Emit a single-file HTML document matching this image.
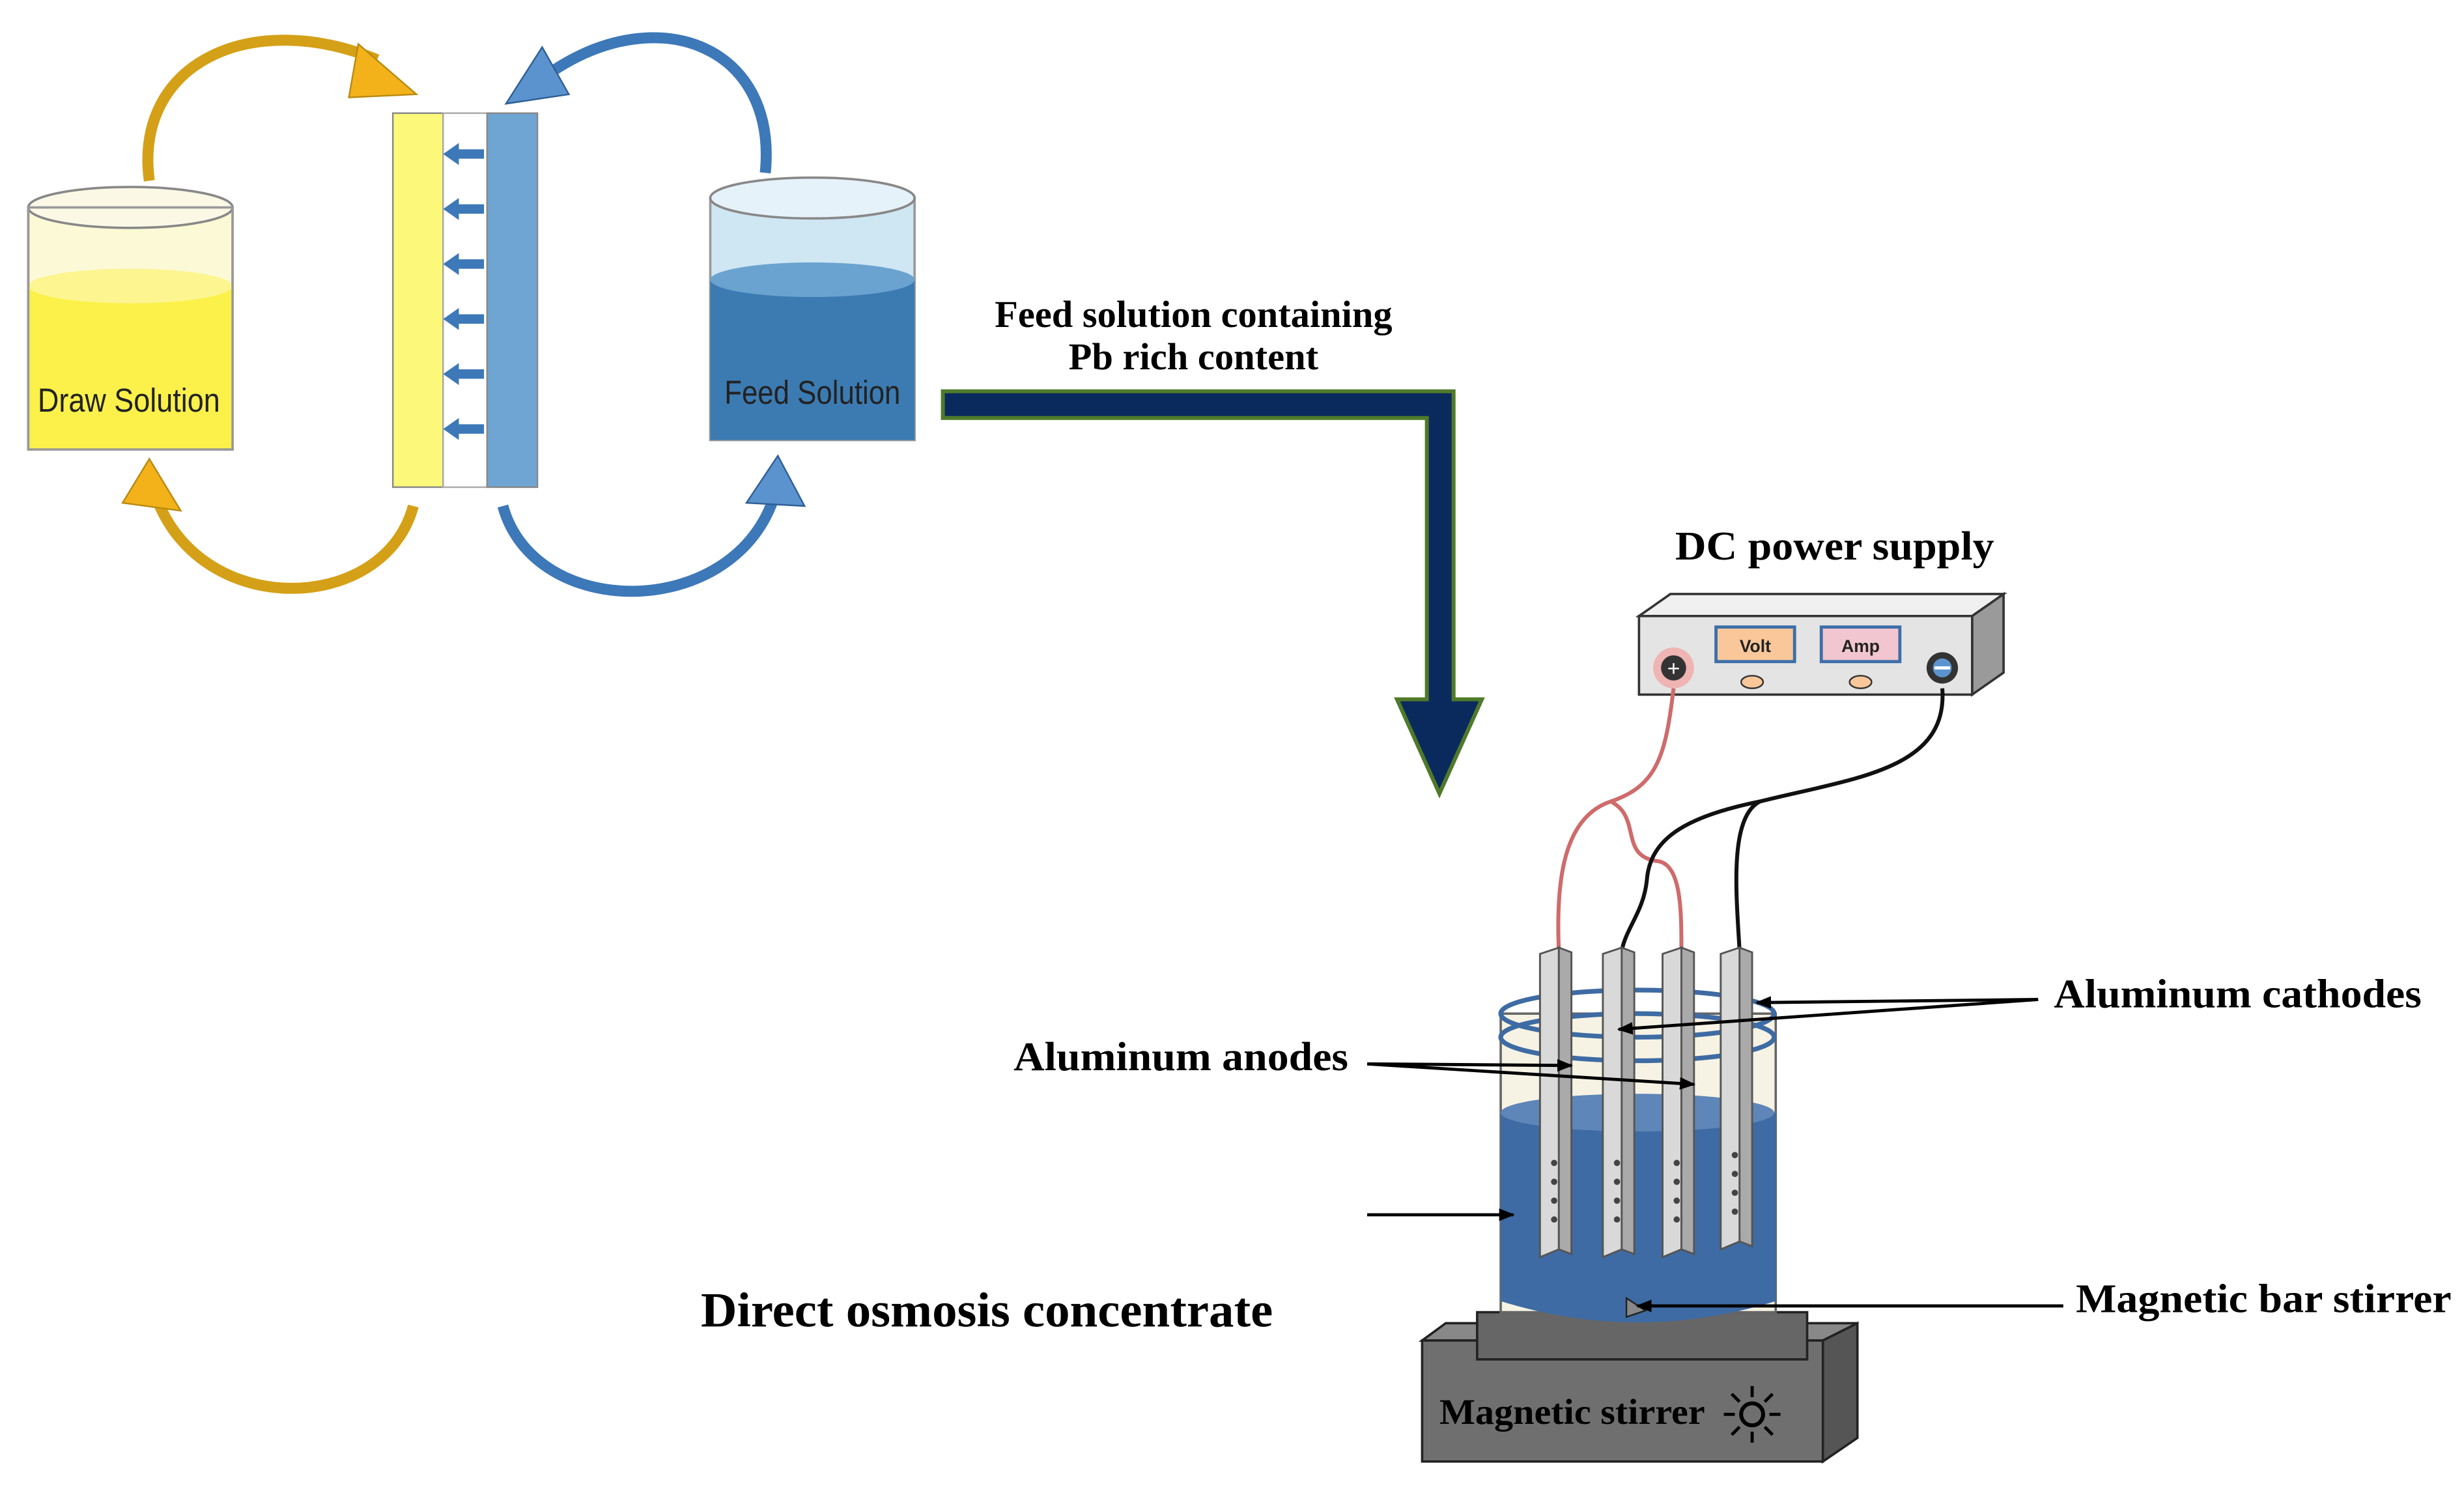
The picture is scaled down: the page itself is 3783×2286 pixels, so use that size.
<!DOCTYPE html>
<html><head><meta charset="utf-8"><style>
html,body{margin:0;padding:0;background:#fff}
svg{display:block}
.t{font-family:"Liberation Serif",serif;font-weight:bold;fill:#000}
.s{font-family:"Liberation Sans",sans-serif;fill:#222}
</style></head><body>
<svg width="3783" height="2286" viewBox="0 0 1568 947.5" preserveAspectRatio="none" xmlns="http://www.w3.org/2000/svg">
<defs>
<marker id="ah" markerWidth="10" markerHeight="8" refX="9" refY="4" orient="auto" markerUnits="userSpaceOnUse"><path d="M0,0 L10,4 L0,8 Z" fill="#000"/></marker>
</defs>
<!-- Draw solution beaker -->
<rect x="18" y="132" width="130" height="154" fill="#fbf9d6" stroke="#999" stroke-width="1.5"/>
<rect x="18" y="182" width="130" height="104" fill="#fbf14a"/>
<ellipse cx="83" cy="182" rx="65" ry="11" fill="#fcf590"/>
<ellipse cx="83" cy="132" rx="65" ry="13" fill="#fbf9e6" stroke="#888" stroke-width="1.5"/>
<rect x="18" y="132" width="130" height="154" fill="none" stroke="#999" stroke-width="1.5"/>
<text x="24" y="262" class="s" font-size="21" textLength="116" lengthAdjust="spacingAndGlyphs">Draw Solution</text>
<!-- Feed beaker -->
<rect x="452" y="126" width="130" height="154" fill="#cfe6f3" stroke="#999" stroke-width="1.5"/>
<rect x="452" y="178" width="130" height="102" fill="#3c7bb2"/>
<ellipse cx="517" cy="178" rx="65" ry="11" fill="#6aa3d0"/>
<ellipse cx="517" cy="126" rx="65" ry="13" fill="#e6f2f9" stroke="#888" stroke-width="1.5"/>
<text x="461" y="257" class="s" font-size="21" fill="#111" textLength="112" lengthAdjust="spacingAndGlyphs">Feed Solution</text>
<!-- membrane -->
<rect x="250" y="72" width="32" height="238" fill="#fcf87a" stroke="#888"/>
<rect x="282" y="72" width="28" height="238" fill="#fff" stroke="#aaa"/>
<rect x="310" y="72" width="32" height="238" fill="#6ea5d3" stroke="#888"/>
<g fill="#3d78b8">
<path d="M282,98 l10,-7 v4 h16 v6 h-16 v4 z"/>
<path d="M282,133 l10,-7 v4 h16 v6 h-16 v4 z"/>
<path d="M282,168 l10,-7 v4 h16 v6 h-16 v4 z"/>
<path d="M282,203 l10,-7 v4 h16 v6 h-16 v4 z"/>
<path d="M282,238 l10,-7 v4 h16 v6 h-16 v4 z"/>
<path d="M282,273 l10,-7 v4 h16 v6 h-16 v4 z"/>
</g>
<!-- orange arrows -->
<path d="M95,115 C85,40 160,5 240,38" fill="none" stroke="#d4a017" stroke-width="7"/>
<path d="M228,28 L265,60 L222,62 Z" fill="#f3b21a" stroke="#b88a10"/>
<path d="M263,322 C245,390 130,395 100,318" fill="none" stroke="#d4a017" stroke-width="7"/>
<path d="M78,320 L95,292 L115,325 Z" fill="#f3b21a" stroke="#b88a10"/>
<!-- blue arrows -->
<path d="M487,110 C495,30 420,0 352,45" fill="none" stroke="#3d78b8" stroke-width="7"/>
<path d="M345,30 L322,66 L362,60 Z" fill="#5b93cf" stroke="#2f5f95"/>
<path d="M320,322 C340,395 465,395 492,318" fill="none" stroke="#3d78b8" stroke-width="7"/>
<path d="M475,320 L495,290 L512,322 Z" fill="#5b93cf" stroke="#2f5f95"/>
<!-- big navy arrow -->
<path d="M600,249 H925 V445 H943 L916,505 L889,445 H908 V266 H600 Z" fill="#0a2a5e" stroke="#4f7a2a" stroke-width="2.5"/>
<text x="633" y="208" class="t" font-size="24" textLength="253" lengthAdjust="spacingAndGlyphs">Feed solution containing</text>
<text x="680" y="235" class="t" font-size="24" textLength="159" lengthAdjust="spacingAndGlyphs">Pb rich content</text>
<text x="1066" y="356" class="t" font-size="26" textLength="203" lengthAdjust="spacingAndGlyphs">DC power supply</text>
<!-- power supply -->
<path d="M1043,392 L1063,378 H1275 L1255,392 Z" fill="#f0f0f0" stroke="#333" stroke-width="1.5"/>
<path d="M1255,392 L1275,378 V428 L1255,442 Z" fill="#9a9a9a" stroke="#333" stroke-width="1.5"/>
<rect x="1043" y="392" width="212" height="50" fill="#e4e4e4" stroke="#333" stroke-width="1.5"/>
<rect x="1092" y="399" width="50" height="22" fill="#f9c79a" stroke="#3d6fa8" stroke-width="2"/>
<text x="1117" y="415" text-anchor="middle" class="s" font-size="11" font-weight="bold">Volt</text>
<rect x="1159" y="399" width="50" height="22" fill="#f2c6d0" stroke="#3d6fa8" stroke-width="2"/>
<text x="1184" y="415" text-anchor="middle" class="s" font-size="11" font-weight="bold">Amp</text>
<ellipse cx="1115" cy="434" rx="7" ry="4" fill="#f9c79a" stroke="#333"/>
<ellipse cx="1184" cy="434" rx="7" ry="4" fill="#f9c79a" stroke="#333"/>
<circle cx="1065" cy="425" r="13" fill="#f3a0a0" opacity="0.7"/>
<circle cx="1065" cy="425" r="8" fill="#333"/>
<text x="1065" y="430" text-anchor="middle" fill="#fff" font-size="14" font-family="Liberation Sans">+</text>
<circle cx="1236" cy="425" r="10" fill="#333"/>
<circle cx="1236" cy="425" r="6" fill="#5b93cf"/>
<rect x="1231" y="424" width="10" height="2" fill="#fff"/>
<!-- wires -->
<path d="M1065,438 C1060,480 1055,500 1025,510 C995,520 990,560 992,605" fill="none" stroke="#cf6b6b" stroke-width="2.5"/>
<path d="M1025,510 C1045,520 1030,545 1055,548 C1070,550 1070,580 1070,605" fill="none" stroke="#cf6b6b" stroke-width="2.5"/>
<path d="M1236,438 C1240,490 1180,495 1120,510 C1100,520 1105,570 1107,605" fill="none" stroke="#111" stroke-width="2.5"/>
<path d="M1120,510 C1070,520 1050,535 1048,560 C1046,580 1035,590 1032,605" fill="none" stroke="#111" stroke-width="2.5"/>
<!-- stirrer base -->
<path d="M905,853 L920,842 H1182 L1160,853 Z" fill="#888" stroke="#222" stroke-width="1.5"/>
<path d="M1160,853 L1182,842 V915 L1160,930 Z" fill="#555" stroke="#222" stroke-width="1.5"/>
<rect x="905" y="853" width="255" height="77" fill="#6f6f6f" stroke="#222" stroke-width="1.5"/>
<rect x="940" y="835" width="210" height="30" fill="#666" stroke="#222" stroke-width="1.5"/>
<text x="916" y="906" class="t" font-size="23" textLength="169" lengthAdjust="spacingAndGlyphs">Magnetic stirrer</text>
<circle cx="1115" cy="900" r="7" fill="none" stroke="#000" stroke-width="2.5"/>
<g stroke="#000" stroke-width="2"><path d="M1115,882v7M1115,911v7M1097,900h7M1126,900h7M1102,887l5,5M1128,887l-5,5M1102,913l5,-5M1128,913l-5,-5"/></g>
<!-- beaker -->
<rect x="955" y="645" width="175" height="190" fill="#f6f3e4" stroke="#666" stroke-width="1.5"/>
<path d="M955,708 H1130 V828 Q1042,855 955,828 Z" fill="#3e6ba3"/>
<ellipse cx="1042" cy="708" rx="87" ry="12" fill="#5f86b8"/>
<ellipse cx="1042" cy="645" rx="87" ry="15" fill="none" stroke="#3e6ba3" stroke-width="3"/>
<ellipse cx="1042" cy="660" rx="87" ry="15" fill="none" stroke="#3e6ba3" stroke-width="3"/>
<!-- electrodes -->
<g fill="#d9d9d9" stroke="#555" stroke-width="1.2">
<path d="M980,607 L992,603 V795 L980,800 Z"/><path d="M992,603 L1000,606 V798 L992,795 Z" fill="#aaa"/>
<path d="M1020,607 L1032,603 V795 L1020,800 Z"/><path d="M1032,603 L1040,606 V798 L1032,795 Z" fill="#aaa"/>
<path d="M1058,607 L1070,603 V795 L1058,800 Z"/><path d="M1070,603 L1078,606 V798 L1070,795 Z" fill="#aaa"/>
<path d="M1095,607 L1107,603 V790 L1095,795 Z"/><path d="M1107,603 L1115,606 V793 L1107,790 Z" fill="#aaa"/>
</g>
<g fill="#444">
<circle cx="989" cy="740" r="2"/><circle cx="989" cy="752" r="2"/><circle cx="989" cy="764" r="2"/><circle cx="989" cy="776" r="2"/>
<circle cx="1029" cy="740" r="2"/><circle cx="1029" cy="752" r="2"/><circle cx="1029" cy="764" r="2"/><circle cx="1029" cy="776" r="2"/>
<circle cx="1067" cy="740" r="2"/><circle cx="1067" cy="752" r="2"/><circle cx="1067" cy="764" r="2"/><circle cx="1067" cy="776" r="2"/>
<circle cx="1104" cy="735" r="2"/><circle cx="1104" cy="747" r="2"/><circle cx="1104" cy="759" r="2"/><circle cx="1104" cy="771" r="2"/>
</g>
<path d="M1035,826 l12,8 l-12,4 z" fill="#888" stroke="#222"/>
<!-- labels and pointer lines -->
<text x="1307" y="641" class="t" font-size="26" textLength="234" lengthAdjust="spacingAndGlyphs">Aluminum cathodes</text>
<line x1="1297" y1="636" x2="1118" y2="638" stroke="#000" stroke-width="2" marker-end="url(#ah)"/>
<line x1="1297" y1="636" x2="1030" y2="655" stroke="#000" stroke-width="2" marker-end="url(#ah)"/>
<text x="645" y="681" class="t" font-size="26" textLength="213" lengthAdjust="spacingAndGlyphs">Aluminum anodes</text>
<line x1="870" y1="677" x2="1000" y2="678" stroke="#000" stroke-width="2" marker-end="url(#ah)"/>
<line x1="870" y1="677" x2="1078" y2="690" stroke="#000" stroke-width="2" marker-end="url(#ah)"/>
<line x1="870" y1="773" x2="963" y2="773" stroke="#000" stroke-width="2" marker-end="url(#ah)"/>
<text x="446" y="844" class="t" font-size="31" textLength="364" lengthAdjust="spacingAndGlyphs">Direct osmosis concentrate</text>
<text x="1321" y="835" class="t" font-size="26" textLength="239" lengthAdjust="spacingAndGlyphs">Magnetic bar stirrer</text>
<line x1="1313" y1="831" x2="1042" y2="831" stroke="#000" stroke-width="2" marker-end="url(#ah)"/>
</svg>
</body></html>
